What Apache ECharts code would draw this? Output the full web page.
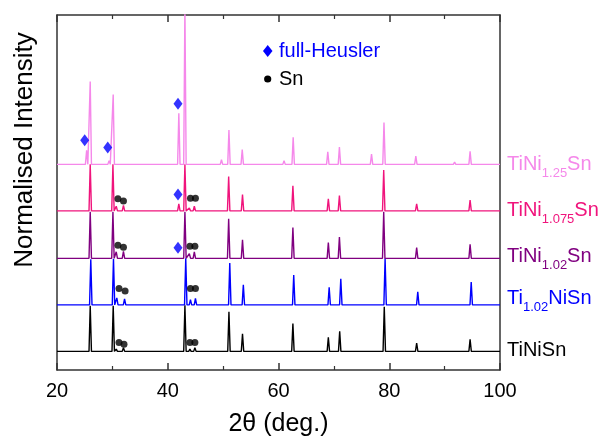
<!DOCTYPE html>
<html>
<head>
<meta charset="utf-8">
<script src="https://cdn.jsdelivr.net/npm/echarts@6/dist/echarts.min.js"></script>
<style>
  html, body { margin: 0; padding: 0; background: #fff; }
  #chart { width: 599px; height: 442px; }
</style>
</head>
<body>
<div id="chart"></div>
<script>
// 各样品的衍射峰 [2θ, 归一化强度]
const peaksTiNiSn = [
  [26.0, 0.98], [28.3, 0.03], [30.15, 0.98], [30.7, 0.05], [32.0, 0.08],
  [43.1, 0.99], [44.0, 0.05], [44.9, 0.08], [51.05, 0.85], [53.5, 0.38],
  [62.6, 0.6], [69.0, 0.3], [71.05, 0.43], [79.1, 0.96], [84.95, 0.18], [94.6, 0.26]
];
const peaksTi102NiSn = [
  [26.1, 0.98], [30.2, 0.99], [30.8, 0.15], [32.2, 0.13], [43.25, 1.0],
  [44.1, 0.11], [45.0, 0.14], [51.2, 0.9], [53.65, 0.43], [55.4, 0.02],
  [62.75, 0.64], [64.8, 0.03], [69.15, 0.38], [71.25, 0.56], [79.25, 1.0],
  [85.15, 0.28], [94.8, 0.49]
];
const peaksTiNi102Sn = [
  [26.0, 1.0], [30.1, 1.0], [30.7, 0.14], [32.0, 0.15], [41.9, 0.03],
  [43.1, 1.0], [43.9, 0.1], [44.8, 0.14], [51.0, 0.85], [53.5, 0.4],
  [55.3, 0.02], [62.6, 0.66], [69.0, 0.34], [71.0, 0.46], [79.0, 1.0],
  [84.95, 0.23], [94.6, 0.3]
];
const peaksTiNi1075Sn = [
  [26.0, 1.0], [30.1, 1.0], [30.7, 0.1], [32.0, 0.12], [42.0, 0.15],
  [43.1, 1.0], [43.9, 0.06], [44.8, 0.1], [51.0, 0.74], [53.5, 0.35],
  [62.6, 0.54], [69.0, 0.26], [71.0, 0.33], [77.0, 0.03], [79.0, 0.88],
  [84.95, 0.15], [94.6, 0.23]
];
const peaksTiNi125Sn = [
  [25.35, 0.3], [26.0, 1.78], [29.4, 0.08], [30.15, 1.5], [42.0, 1.1],
  [43.1, 3.4], [49.7, 0.1], [51.05, 0.74], [53.45, 0.32], [61.0, 0.08],
  [62.65, 0.58], [68.9, 0.27], [71.0, 0.37], [76.8, 0.22], [79.05, 0.9],
  [84.8, 0.18], [91.8, 0.05], [94.6, 0.28]
];

// 堆叠偏移
const offsets = [0, 1.0, 2.0, 3.02, 4.02];
const sampleNames = ['TiNiSn', 'Ti1.02NiSn', 'TiNi1.02Sn', 'TiNi1.075Sn', 'TiNi1.25Sn'];
const sampleColors = ['#000000', '#0000ff', '#800080', '#f0147c', '#f588ea'];

// 标记点 [2θ, y]
const heuslerMarks = [
  [25.0, 4.54], [29.16, 4.38], [41.85, 5.32], [41.85, 3.37], [41.85, 2.23]
];
const snMarks = [
  [31.2, 0.19], [32.1, 0.155], [44.0, 0.19], [44.9, 0.19],
  [31.2, 1.35], [32.3, 1.30], [44.1, 1.35], [45.0, 1.35],
  [31.0, 2.28], [32.0, 2.24], [44.0, 2.26], [44.9, 2.26],
  [31.0, 3.28], [32.0, 3.23], [44.1, 3.29], [45.0, 3.29]
];

const FONT = 'Liberation Sans, Arial, sans-serif';
const HALF_WIDTH = 0.22;

// 从峰列表生成折线
function buildPattern(peaks, offset) {
  const pts = [[20, offset]];
  peaks.forEach(([x, h]) => {
    pts.push([x - HALF_WIDTH, offset], [x, offset + h], [x + HALF_WIDTH, offset]);
  });
  pts.push([100, offset]);
  return pts;
}

const allPeaks = [peaksTiNiSn, peaksTi102NiSn, peaksTiNi102Sn, peaksTiNi1075Sn, peaksTiNi125Sn];

const lineSeries = allPeaks.map((peaks, i) => ({
  name: sampleNames[i],
  type: 'line',
  data: buildPattern(peaks, offsets[i]),
  showSymbol: false,
  clip: true,
  lineStyle: { color: sampleColors[i], width: 1.4 },
  z: 2 + i
}));

// 右侧样品标签（带下标）
const labelRich = {
  m: { fontSize: 20, lineHeight: 32, verticalAlign: 'middle', fontFamily: FONT },
  s: { fontSize: 13, lineHeight: 13, verticalAlign: 'bottom', fontFamily: FONT }
};
const labelItems = [
  { text: '{m|TiNiSn}', y: 350, color: sampleColors[0] },
  { text: '{m|Ti}{s|1.02}{m|NiSn}', y: 298, color: sampleColors[1] },
  { text: '{m|TiNi}{s|1.02}{m|Sn}', y: 256, color: sampleColors[2] },
  { text: '{m|TiNi}{s|1.075}{m|Sn}', y: 210, color: sampleColors[3] },
  { text: '{m|TiNi}{s|1.25}{m|Sn}', y: 164, color: sampleColors[4] }
];

const chart = echarts.init(document.getElementById('chart'), null, { renderer: 'canvas' });

const axisLineStyle = { color: '#333', width: 1.5 };

chart.setOption({
  animation: false,
  backgroundColor: '#fff',
  grid: { left: 57, right: 99, top: 15, bottom: 68 },
  xAxis: [{
    type: 'value',
    min: 20, max: 100, interval: 20,
    name: '2θ (deg.)',
    nameLocation: 'middle',
    nameGap: 42,
    nameTextStyle: { fontSize: 25, color: '#000', fontFamily: FONT },
    axisLine: { onZero: false, lineStyle: axisLineStyle },
    axisTick: { inside: true, length: 7, lineStyle: axisLineStyle },
    minorTick: { show: true, splitNumber: 2, length: 4, lineStyle: { color: '#333', width: 1.2 } },
    axisLabel: { fontSize: 20, color: '#000', margin: 11, fontFamily: FONT },
    splitLine: { show: false }
  }, {
    type: 'value',
    position: 'top',
    min: 20, max: 100, interval: 20,
    axisLine: { onZero: false, lineStyle: axisLineStyle },
    axisTick: { inside: true, length: 7, lineStyle: axisLineStyle },
    minorTick: { show: true, splitNumber: 2, length: 4, lineStyle: { color: '#333', width: 1.2 } },
    axisLabel: { show: false },
    splitLine: { show: false }
  }],
  yAxis: [{
    type: 'value',
    min: -0.4, max: 7.23,
    axisLine: { show: true, onZero: false, lineStyle: axisLineStyle },
    axisTick: { show: false },
    axisLabel: { show: false },
    splitLine: { show: false }
  }, {
    type: 'value',
    position: 'right',
    min: -0.4, max: 7.23,
    axisLine: { show: true, onZero: false, lineStyle: axisLineStyle },
    axisTick: { show: false },
    axisLabel: { show: false },
    splitLine: { show: false }
  }],
  series: [
    ...lineSeries,
    {
      name: 'full-Heusler',
      type: 'scatter',
      data: heuslerMarks,
      symbol: 'diamond',
      symbolSize: [9, 12],
      itemStyle: { color: '#0000ff' },
      z: 10
    },
    {
      name: 'Sn',
      type: 'scatter',
      data: snMarks,
      symbol: 'circle',
      symbolSize: 7,
      itemStyle: { color: '#000' },
      z: 10
    }
  ],
  graphic: [
    // y 轴标题
    {
      type: 'text',
      x: 25, y: 150,
      rotation: Math.PI / 2,
      style: {
        text: 'Normalised Intensity',
        fill: '#000',
        font: '26px ' + FONT,
        align: 'center',
        verticalAlign: 'middle'
      }
    },
    // 图例
    {
      type: 'polygon',
      shape: { points: [[267.7, 45], [272.5, 51], [267.7, 57], [263, 51]] },
      style: { fill: '#0000ff' }
    },
    {
      type: 'circle',
      shape: { cx: 267.7, cy: 79, r: 3.6 },
      style: { fill: '#000' }
    },
    {
      type: 'text', x: 279, y: 51,
      style: { text: 'full-Heusler', fill: '#0000ff', font: '20px ' + FONT, verticalAlign: 'middle' }
    },
    {
      type: 'text', x: 279, y: 79,
      style: { text: 'Sn', fill: '#000', font: '20px ' + FONT, verticalAlign: 'middle' }
    },
    ...labelItems.map(item => ({
      type: 'text',
      x: 507, y: item.y,
      style: {
        text: item.text,
        rich: labelRich,
        fill: item.color,
        fontSize: 20,
        fontFamily: FONT,
        align: 'left',
        verticalAlign: 'middle'
      }
    }))
  ]
});
</script>
</body>
</html>
